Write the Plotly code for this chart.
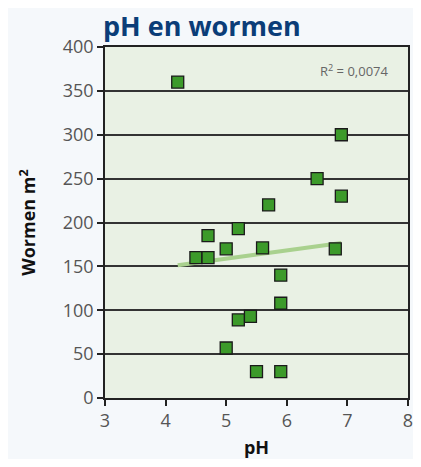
import numpy as np
import plotly.graph_objects as go

ph = [4.2, 6.9, 6.5, 6.9, 5.7, 5.2, 4.7, 5.0, 5.6, 4.5, 4.7, 6.8, 5.9, 5.9, 5.4, 5.2, 5.0, 5.5, 5.9]
wormen = [360, 300, 250, 230, 220, 193, 185, 170, 171, 160, 160, 170, 140, 108, 93, 89, 57, 30, 30]
x_ticks = [3, 4, 5, 6, 7, 8]
y_ticks = [0, 50, 100, 150, 200, 250, 300, 350, 400]
r2_text = "R<sup>2</sup> = 0,0074"

slope, intercept = np.polyfit(ph, wormen, 1)
tx = [min(ph), max(ph)]
ty = [slope * v + intercept for v in tx]

W, H = 413, 451

fig = go.Figure()
fig.add_trace(go.Scatter(x=tx, y=ty, mode="lines",
                         line=dict(color="#a9d18e", width=4), hoverinfo="skip"))
fig.add_trace(go.Scatter(x=ph, y=wormen, mode="markers",
                         marker=dict(symbol="square", size=12, color="#3c9a2a",
                                     line=dict(color="#1a1a1a", width=1.3))))

fig.update_layout(
    width=W, height=H, autosize=False,
    margin=dict(l=97, r=13, t=39, b=61),
    paper_bgcolor="#f5f8fb",
    plot_bgcolor="#e9f1e4",
    showlegend=False,
    font=dict(family="Open Sans", color="#555555"),
    title=dict(text="<b>pH en wormen</b>", x=95 / W, xanchor="left",
               y=1 - 19 / H, yanchor="middle",
               font=dict(family="Open Sans", size=27, color="#0b3d78")),
    xaxis=dict(range=[3, 8], tickvals=x_ticks, showgrid=False, zeroline=False,
               automargin=False,
               showline=True, linecolor="#222222", linewidth=1.5, mirror=True,
               ticks="outside", ticklen=6, tickcolor="#222222", tickwidth=1.5,
               tickfont=dict(size=18, color="#555555"),
               title=dict(text="<b>pH</b>", font=dict(size=18, color="#111111"), standoff=18)),
    yaxis=dict(range=[0, 400], tickvals=y_ticks, showgrid=True, gridcolor="#333333",
               gridwidth=1.5, zeroline=False, automargin=False,
               showline=True, linecolor="#222222", linewidth=1.5, mirror=True,
               ticks="outside", ticklen=6, tickcolor="#222222", tickwidth=1.5,
               tickfont=dict(size=18, color="#555555"),
               title=dict(text="<b>Wormen m<sup>2</sup></b>", font=dict(size=18, color="#111111"),
                          standoff=22)),
    annotations=[dict(text=r2_text, x=0.944, y=0.934, xref="paper", yref="paper",
                      xanchor="right", yanchor="middle", showarrow=False,
                      font=dict(size=13, color="#666666"))],
)

fig.write_html("out.html")
